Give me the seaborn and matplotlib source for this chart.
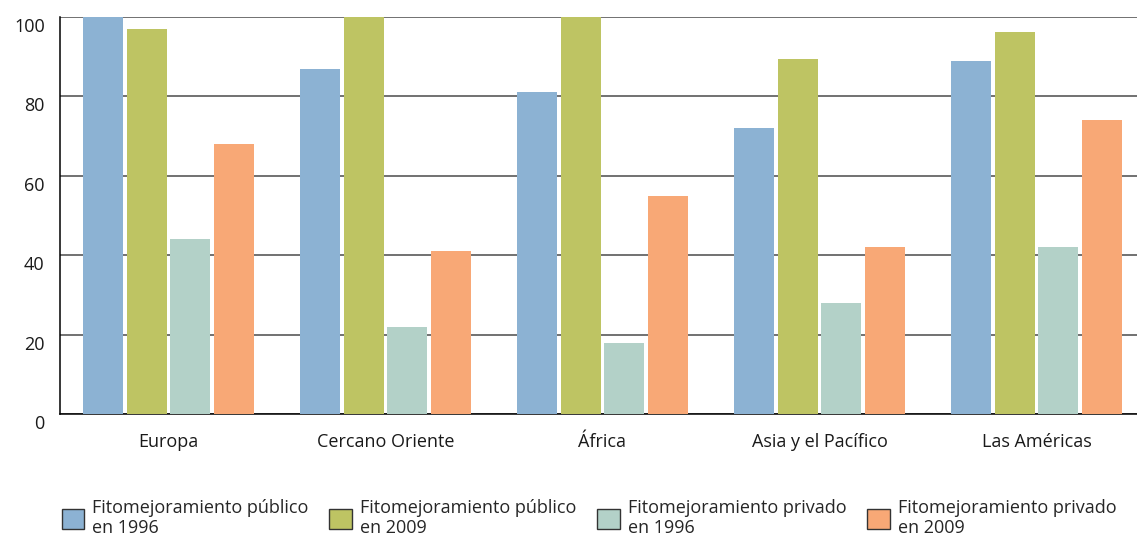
import matplotlib
matplotlib.use("Agg")
import matplotlib.pyplot as plt
import matplotlib.transforms as mtransforms
from matplotlib.patches import Patch
import seaborn as sns
import pandas as pd

regions = ["Europa", "Cercano Oriente", "África", "Asia y el Pacífico", "Las Américas"]
series = ["Fitomejoramiento público\nen 1996", "Fitomejoramiento público\nen 2009",
          "Fitomejoramiento privado\nen 1996", "Fitomejoramiento privado\nen 2009"]
publico_1996 = [100, 87, 81, 72, 89]
publico_2009 = [97, 100, 100, 89.5, 96.3]
privado_1996 = [44, 22, 18, 28, 42]
privado_2009 = [68, 41, 55, 42, 74]
colors = ["#8CB2D3", "#BEC463", "#B3D1C8", "#F8A876"]
yticks = [0, 20, 40, 60, 80, 100]

rows = []
for s, vals in zip(series, [publico_1996, publico_2009, privado_1996, privado_2009]):
    for r, v in zip(regions, vals):
        rows.append({"region": r, "serie": s, "valor": v})
df = pd.DataFrame(rows)

sns.set_theme(style="white")
plt.rcParams["font.family"] = ["Open Sans", "DejaVu Sans"]

fig = plt.figure(figsize=(11.37, 5.37), dpi=100)
ax = fig.add_axes([60/1137, 123/537, 1085/1137, 397/537])

sns.barplot(data=df, x="region", y="valor", hue="serie", order=regions,
            hue_order=series, palette=colors, saturation=1, gap=0.08,
            width=0.8, legend=False, ax=ax, zorder=3, linewidth=0, edgecolor="none")

ax.set_xlim(-0.5, 4.5)
ax.set_ylim(0, 100)
ax.set_xlabel("")
ax.set_ylabel("")
ax.set_yticks(yticks)
ax.set_yticklabels([str(t) for t in yticks], fontsize=13, color="#1a1a1a")
ax.yaxis.grid(True, color="#4a4a4a", linewidth=1.1, zorder=0)
ax.set_axisbelow(True)
ax.tick_params(axis="y", length=0, pad=11)
off = mtransforms.ScaledTranslation(0, -8/100, fig.dpi_scale_trans)
for lab in ax.get_yticklabels():
    lab.set_transform(lab.get_transform() + off)

ax.tick_params(axis="x", which="major", length=0, pad=14, labelsize=13, labelcolor="#1a1a1a")
ax.set_xticks([0.5, 1.5, 2.5, 3.5], minor=True)
ax.tick_params(axis="x", which="minor", direction="in", length=7, width=1.1, color="black")

for side in ["top", "right"]:
    ax.spines[side].set_visible(False)
for side in ["left", "bottom"]:
    ax.spines[side].set_visible(True)
    ax.spines[side].set_color("black")
    ax.spines[side].set_linewidth(1.1)

handles = [Patch(facecolor=c, edgecolor="#333333", linewidth=1) for c in colors]
fig.legend(handles, series, loc="upper left", bbox_to_anchor=(49/1137, 1 - 486/537),
           ncol=4, frameon=False, fontsize=13, handlelength=1.25, handleheight=1.3,
           handletextpad=0.45, columnspacing=1.15, labelspacing=0, borderpad=0.2)

fig.savefig("out.png", dpi=100)
